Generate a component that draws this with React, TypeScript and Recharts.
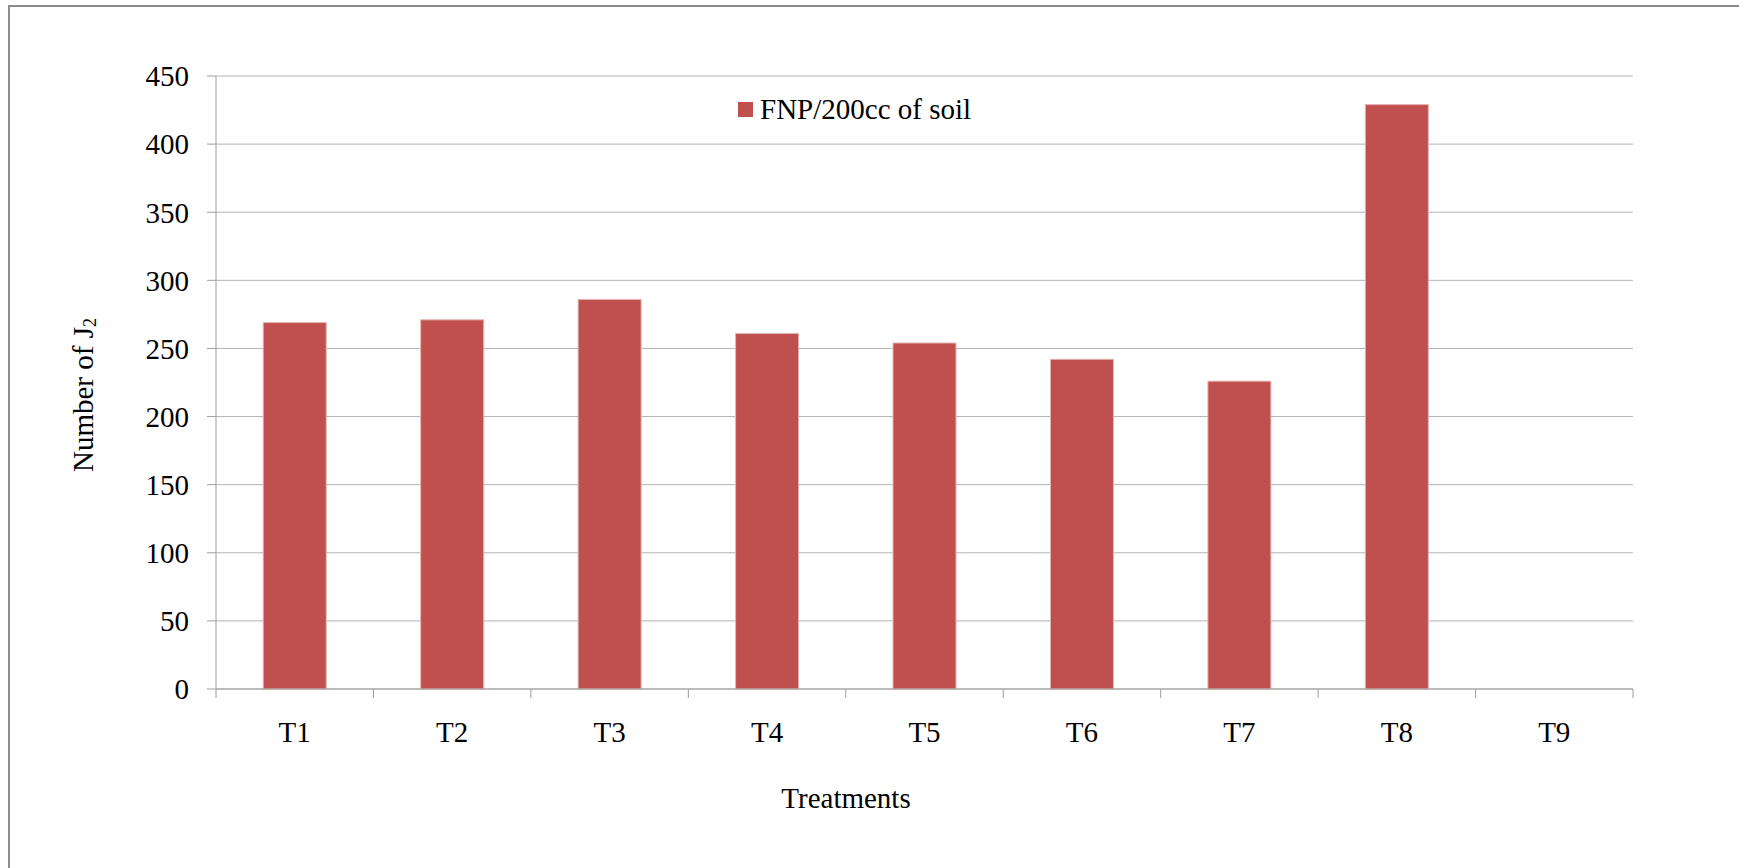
import React from "react";
import { BarChart, Bar, XAxis, YAxis, CartesianGrid, Legend } from "recharts";

const treatments = ["T1", "T2", "T3", "T4", "T5", "T6", "T7", "T8", "T9"];
const fnpCounts = [269, 271, 286, 261, 254, 242, 226, 429, 0];
const yTicks = [0, 50, 100, 150, 200, 250, 300, 350, 400, 450];

const data = treatments.map((t, i) => ({ name: t, fnp: fnpCounts[i] }));

const FONT = '"Liberation Serif", "Times New Roman", serif';
const BAR = "#C0504D";
const AXIS = "#9e9e9e";
const GRID = "#b3b3b3";

// category labels centred, tick marks on the band edges like a spreadsheet chart
function EdgeTick(props: any) {
  const { x, y, payload, index, visibleTicksCount } = props;
  const half = payload?.offset ?? 78.7;
  const top = y - 32;
  const isLast = index === visibleTicksCount - 1;
  return (
    <g>
      <line x1={x - half} x2={x - half} y1={top} y2={top + 9} stroke={AXIS} />
      {isLast && <line x1={x + half} x2={x + half} y1={top} y2={top + 9} stroke={AXIS} />}
      <text x={x} y={y} dy="0.71em" textAnchor="middle" fill="#000" fontSize={29} fontFamily={FONT}>
        {payload.value}
      </text>
    </g>
  );
}

function ValueTick(props: any) {
  const { x, y, payload } = props;
  return (
    <text x={x} y={y} dy="0.355em" textAnchor="end" fill="#000" fontSize={29} fontFamily={FONT}>
      {payload.value}
    </text>
  );
}

function LegendBox() {
  return (
    <div style={{ display: "flex", alignItems: "center", fontFamily: FONT, fontSize: 29, lineHeight: "29px", color: "#000", whiteSpace: "nowrap" }}>
      <span style={{ width: 15, height: 15, background: BAR, display: "inline-block", marginRight: 7 }} />
      <span style={{ fontFamily: FONT }}>FNP/200cc of soil</span>
    </div>
  );
}

export default function App() {
  return (
    <div style={{ position: "fixed", left: 0, top: 0, width: 1739, height: 868, background: "#fff", overflow: "hidden", fontFamily: FONT }}>
      {/* chart-area frame: only its left and top edges fall inside the page */}
      <div
        style={{
          position: "absolute",
          left: 8,
          top: 5,
          right: 0,
          bottom: 0,
          borderLeft: "2px solid #8c8c8c",
          borderTop: "2px solid #8c8c8c",
        }}
      />
      <div style={{ position: "absolute", left: 0, top: 0 }}>
        <BarChart
          width={1739}
          height={868}
          data={data}
          margin={{ top: 76, right: 106, bottom: 79, left: 116 }}
          barCategoryGap="30%"
        >
          <CartesianGrid vertical={false} stroke={GRID} />
          <XAxis
            dataKey="name"
            height={100}
            stroke={AXIS}
            tickLine={false}
            tickSize={9}
            tickMargin={23}
            tick={<EdgeTick />}
            interval={0}
            label={{
              content: () => (
                <text x={846} y={808} textAnchor="middle" fontSize={29} fontFamily={FONT} fill="#000">
                  Treatments
                </text>
              ),
            }}
          />
          <YAxis
            width={100}
            domain={[0, 450]}
            ticks={yTicks}
            interval={0}
            stroke={AXIS}
            tickSize={9}
            tickMargin={18}
            tick={<ValueTick />}
            label={{
              content: () => (
                <text
                  x={83}
                  y={395}
                  transform="rotate(-90, 83, 395)"
                  textAnchor="middle"
                  dominantBaseline="central"
                  fontSize={29}
                  fontFamily={FONT}
                  fill="#000"
                >
                  <tspan>Number of J</tspan>
                  <tspan dy={7} fontSize={18}>2</tspan>
                </text>
              ),
            }}
          />
          <Legend
            layout="horizontal"
            verticalAlign="middle"
            align="center"
            content={<LegendBox />}
            wrapperStyle={{ position: "absolute", left: 738, top: 95, width: "auto" }}
          />
          <Bar dataKey="fnp" name="FNP/200cc of soil" fill={BAR} stroke="#e3b4b3" strokeWidth={1} isAnimationActive={false} />
        </BarChart>
      </div>
    </div>
  );
}
